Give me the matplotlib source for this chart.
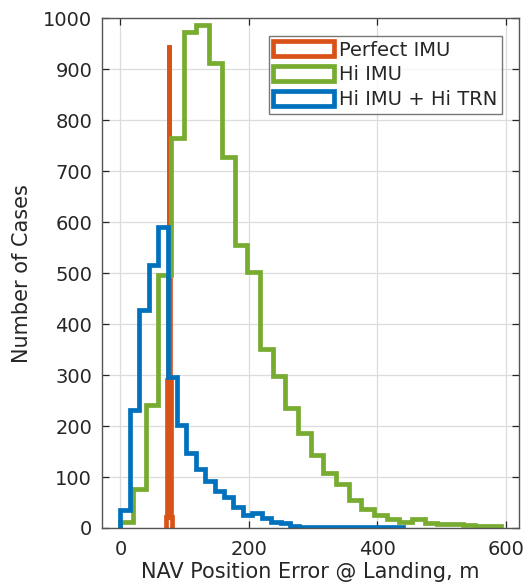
import numpy as np
import matplotlib
matplotlib.use("Agg")
import matplotlib.pyplot as plt
from matplotlib.patches import Rectangle

# ── Histogram data (counts) ────────────────────────────────────────────────────
perfect_edges  = [71.0, 72.0, 73.0, 74.0, 75.0, 76.0, 77.0, 78.0, 79.0, 80.0]
perfect_counts = [22, 160, 290, 490, 947, 486, 290, 160, 22]

hi_edges  = np.linspace(0, 592, 31)
hi_counts = [12, 76, 241, 496, 765, 973, 986, 912, 727, 555,
             502, 351, 298, 235, 186, 143, 108, 86, 55, 37,
             25, 17, 12, 17, 10, 8, 8, 6, 4, 3]

trn_edges  = np.linspace(0, 440, 31)
trn_counts = [35, 231, 427, 516, 591, 297, 202, 147, 116, 92,
              73, 61, 42, 25, 29, 20, 12, 10, 4, 2,
              2, 2, 1, 1, 1, 1, 1, 1, 1, 1]

series = [
    (perfect_edges, perfect_counts, "Perfect IMU",     "#D95319"),
    (hi_edges,      hi_counts,      "Hi IMU",          "#77AC30"),
    (trn_edges,     trn_counts,     "Hi IMU + Hi TRN", "#0072BD"),
]

txt = "#262626"
plt.rcParams["font.family"] = "DejaVu Sans"

fig = plt.figure(figsize=(5.25, 5.86), dpi=100)
ax = fig.add_axes([0.194, 0.099, 0.795, 0.870])

handles = []
for edges, counts, label, color in series:
    ax.stairs(counts, edges, color=color, linewidth=3.4, baseline=0)
    handles.append(Rectangle((0, 0), 1, 1, facecolor="white",
                             edgecolor=color, linewidth=3.4, label=label))

ax.set_xlim(-29, 621)
ax.set_ylim(0, 1000)
ax.set_xticks([0, 200, 400, 600])
ax.set_yticks(np.arange(0, 1001, 100))
ax.grid(True, color="#dcdcdc", linewidth=0.9)
ax.set_axisbelow(True)
ax.tick_params(direction="in", top=True, right=True, length=5,
               labelsize=14, colors=txt, width=0.9)
ax.tick_params(axis="x", pad=9)
ax.tick_params(axis="y", pad=7)
for s in ax.spines.values():
    s.set_color("#555555")
    s.set_linewidth(1.0)

ax.set_xlabel("NAV Position Error @ Landing, m", fontsize=15, color=txt,
              labelpad=2)
ax.set_ylabel("Number of Cases", fontsize=15, color=txt, labelpad=8)

leg = ax.legend(handles=handles, loc="upper right", fontsize=14,
                frameon=True, fancybox=False, borderpad=0.25,
                labelspacing=0.3, handlelength=3.1, handleheight=0.8,
                handletextpad=0.25, borderaxespad=0.9)
leg.get_frame().set_edgecolor("#555555")
leg.get_frame().set_linewidth(1.0)
for t in leg.get_texts():
    t.set_color(txt)

fig.savefig("out.png", dpi=100)
